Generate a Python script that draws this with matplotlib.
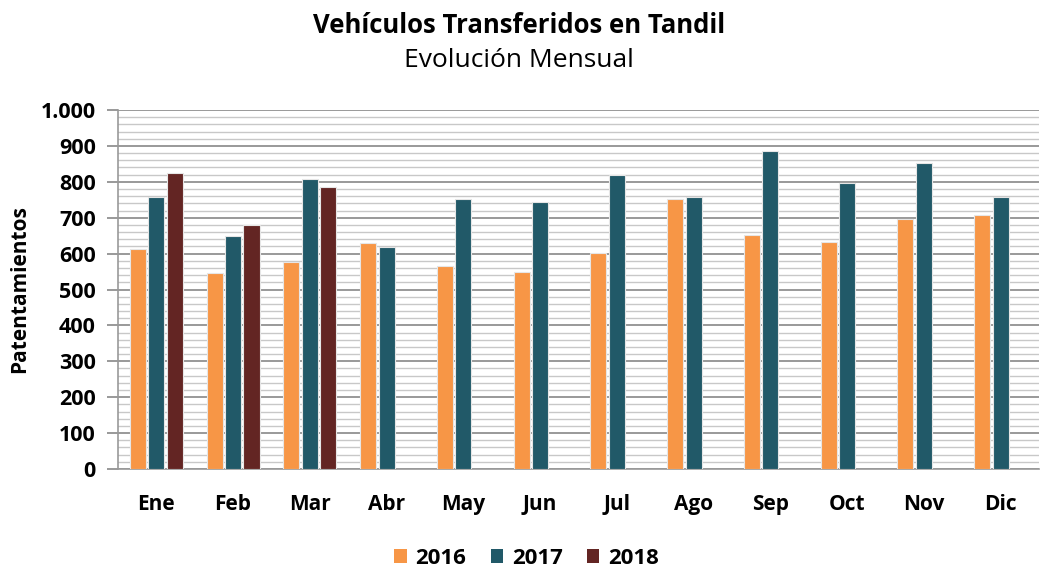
import matplotlib
matplotlib.use("Agg")
import matplotlib.pyplot as plt
import numpy as np
from matplotlib.patches import Patch

plt.rcParams['font.family'] = ['Open Sans', 'DejaVu Sans']

months = ["Ene", "Feb", "Mar", "Abr", "May", "Jun", "Jul", "Ago", "Sep", "Oct", "Nov", "Dic"]
v2016 = [612, 545, 578, 629, 566, 550, 601, 751, 651, 633, 695, 707]
v2017 = [757, 650, 807, 617, 751, 745, 818, 757, 885, 796, 851, 757]
v2018 = [824, 679, 785]
series_labels = ["2016", "2017", "2018"]
colors = ["#F79646", "#215968", "#632523"]

fig = plt.figure(figsize=(10.43, 5.69), dpi=100)
ax = fig.add_axes([0.1131, 0.1757, 0.8830, 0.6310])

x = np.arange(len(months))
w = 0.21
off = 0.24
for i, vals in enumerate([v2016, v2017, v2018]):
    xs = x[:len(vals)] + (i - 1) * off
    ax.bar(xs, vals, width=w, color=colors[i], edgecolor="#E6E6E6", linewidth=0.8, zorder=3)

ax.set_xlim(-0.5, len(months) - 0.5)
ax.set_ylim(0, 1000)
ax.set_yticks(np.arange(0, 1001, 100))
ax.set_yticks(np.arange(0, 1001, 20), minor=True)
ax.set_yticklabels(["0", "100", "200", "300", "400", "500", "600", "700", "800", "900", "1.000"],
                   fontsize=15.5, fontweight="bold")
ax.set_xticks(x)
ax.set_xticklabels(months, fontsize=15, fontweight="bold")
ax.tick_params(axis="x", length=0, pad=18)
ax.tick_params(axis="y", which="major", length=8, color="#888888", width=1.2, pad=8)
ax.tick_params(axis="y", which="minor", length=0)

ax.grid(axis="y", which="major", color="#888888", linewidth=1.2, zorder=0)
ax.grid(axis="y", which="minor", color="#C8C8C8", linewidth=1.0, zorder=0)
ax.set_axisbelow(True)

for s in ["top", "right"]:
    ax.spines[s].set_visible(False)
ax.spines["left"].set_color("#999999")
ax.spines["left"].set_linewidth(1.2)
ax.spines["bottom"].set_color("#999999")
ax.spines["bottom"].set_linewidth(1.2)

ax.set_ylabel("Patentamientos", fontsize=15, fontweight="bold")
ax.yaxis.set_label_coords(-0.095, 0.5)

fig.text(0.498, 0.956, "Vehículos Transferidos en Tandil", ha="center", va="center",
         fontsize=18.5, fontweight="bold")
fig.text(0.498, 0.893, "Evolución Mensual", ha="center", va="center", fontsize=19)

handles = [Patch(facecolor=c, edgecolor="none") for c in colors]
fig.legend(handles, series_labels, loc="center", bbox_to_anchor=(0.505, 0.019), ncol=3,
           frameon=False, prop={"size": 16, "weight": "bold"}, handlelength=0.55,
           handleheight=0.6, columnspacing=1.1, handletextpad=0.4)

fig.savefig("out.png", dpi=100)
